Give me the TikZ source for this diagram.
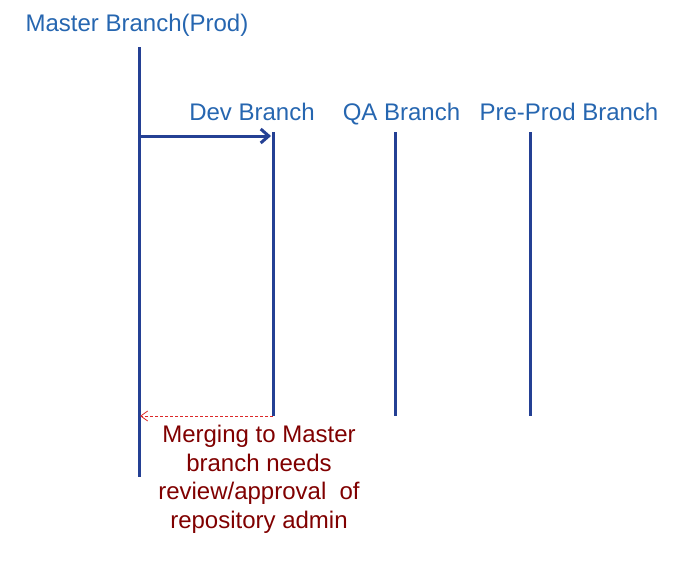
\documentclass[tikz,border=0pt]{standalone}
\usepackage{fontspec}
\setmainfont{Liberation Sans}
\usetikzlibrary{arrows.meta}
\definecolor{labelblue}{RGB}{38,102,176}
\definecolor{lineblue}{RGB}{36,64,148}
\definecolor{notered}{RGB}{128,0,0}
\definecolor{dashred}{RGB}{220,40,40}
\begin{document}
\begin{tikzpicture}[x=1pt,y=-1pt,
  branchline/.style={draw=lineblue,line width=3pt},
  branchlabel/.style={text=labelblue,font=\fontsize{24}{28}\selectfont,anchor=base,inner sep=0pt},
  notelabel/.style={text=notered,font=\fontsize{24}{28.5}\selectfont,align=center,anchor=base,inner sep=0pt},
  mergearrow/.style={draw=dashred,line width=0.8pt,dash pattern=on 3pt off 2pt,-{Straight Barb[length=7pt,width=10pt,line width=0.8pt]}},
  createarrow/.style={draw=lineblue,line width=3pt,-{Straight Barb[length=8pt,width=14pt,line width=3pt]}}]
\useasboundingbox (0,0) rectangle (681,570);
% labels
\node[branchlabel] (mlabel) at (137,31) {Master Branch(Prod)};
\node[branchlabel] (dlabel) at (252,120) {Dev Branch};
\node[branchlabel] (qlabel) at (401.5,120) {QA Branch};
\node[branchlabel] (plabel) at (569,120) {Pre-Prod Branch};
% branch line ends
\coordinate (mtop) at (139,47);
\coordinate (mbot) at (139,477);
\coordinate (dtop) at (273,132);
\coordinate (dbot) at (273,416);
\coordinate (qtop) at (395,132);
\coordinate (qbot) at (395,416);
\coordinate (ptop) at (530,132);
\coordinate (pbot) at (530,416);
\coordinate (mfork) at (139,136);
\coordinate (dfork) at (271,136);
\coordinate (mmerge) at (140,416);
\draw[branchline] (mtop) -- (mbot);
\draw[branchline] (dtop) -- (dbot);
\draw[branchline] (qtop) -- (qbot);
\draw[branchline] (ptop) -- (pbot);
\draw[createarrow] (mfork) -- (dfork);
\draw[mergearrow] (dbot) -- (mmerge);
\node[notelabel] (note) at (259,528) {Merging to Master\\branch needs\\review/approval\ \ of\\repository admin};
\end{tikzpicture}
\end{document}
